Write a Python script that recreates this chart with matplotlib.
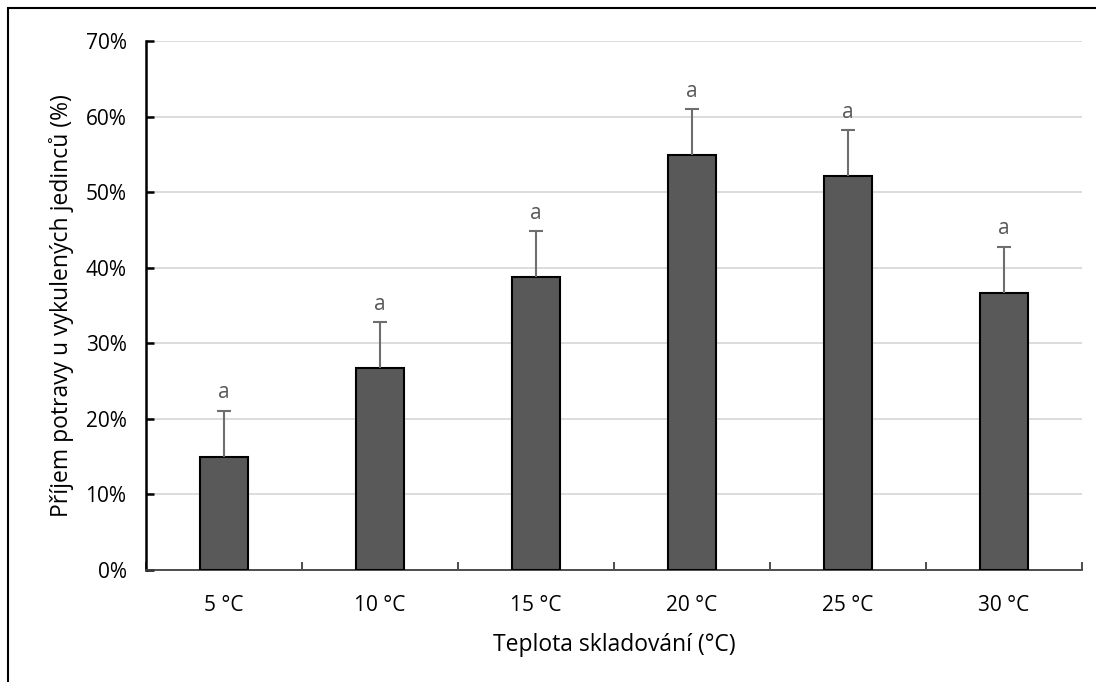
import matplotlib
matplotlib.use("Agg")
import matplotlib.pyplot as plt
from matplotlib.patches import Rectangle
from matplotlib.ticker import FuncFormatter, FixedLocator, NullFormatter
import numpy as np

# data
temperatures = ["5 °C", "10 °C", "15 °C", "20 °C", "25 °C", "30 °C"]
intake = [15.0, 26.7, 38.8, 54.9, 52.1, 36.7]
intake_err = [6.1, 6.1, 6.1, 6.1, 6.1, 6.1]
groups = ["a", "a", "a", "a", "a", "a"]

plt.rcParams['font.family'] = ['Open Sans', 'DejaVu Sans']

fig = plt.figure(figsize=(10.96, 6.82), dpi=100)
ax = fig.add_axes([146 / 1096, 1 - 570 / 682, 936 / 1096, 529 / 682])

x = np.arange(len(temperatures))
ax.bar(x, intake, width=0.314, color="#595959", edgecolor="black", linewidth=1.5, zorder=3)
_, caps, _ = ax.errorbar(x, intake, yerr=[np.zeros(len(x)), intake_err], fmt="none",
                         ecolor="#6e6e6e", elinewidth=1.5, capsize=5, capthick=1.5, zorder=4)
# only the upper cap is shown
caps[0].set_visible(False)

for xi, v, e, g in zip(x, intake, intake_err, groups):
    ax.text(xi, v + e + 1.6, g, ha="center", va="baseline", fontsize=15, color="#595959")

ax.set_xlim(-0.5, len(x) - 0.5)
ax.set_ylim(0, 70)
ax.set_yticks(np.arange(0, 71, 10))
ax.yaxis.set_major_formatter(FuncFormatter(lambda v, p: f"{v:.0f}%"))
ax.grid(axis="y", color="#d9d9d9", linewidth=1.3, zorder=0)

# category labels centred, tick marks between categories
ax.xaxis.set_major_locator(FixedLocator(np.arange(-0.5, len(x), 1.0)))
ax.xaxis.set_major_formatter(NullFormatter())
ax.xaxis.set_minor_locator(FixedLocator(x))
ax.set_xticklabels(temperatures, minor=True)
ax.tick_params(axis="x", which="minor", length=0, pad=18, labelsize=15, colors="black")
ax.tick_params(axis="x", which="major", direction="in", length=6, width=1.3, color="#404040")
ax.tick_params(axis="y", direction="in", length=6, width=1.8, color="black",
               labelsize=15, pad=14)

for s in ["top", "right"]:
    ax.spines[s].set_visible(False)
ax.spines["left"].set_linewidth(1.8)
ax.spines["left"].set_color("black")
ax.spines["bottom"].set_linewidth(1.3)
ax.spines["bottom"].set_color("#404040")

ax.set_xlabel("Teplota skladování (°C)", fontsize=16.5, labelpad=12)
ax.set_ylabel("Příjem potravy u vykulených jedinců (%)", fontsize=16.5, labelpad=8)

# chart frame
fig.patches.append(Rectangle((8 / 1096, -0.05), 1.2, 1 - 8 / 682 + 0.05,
                             transform=fig.transFigure, fill=False,
                             edgecolor="black", linewidth=1.5))

fig.savefig("out.png", dpi=100)
